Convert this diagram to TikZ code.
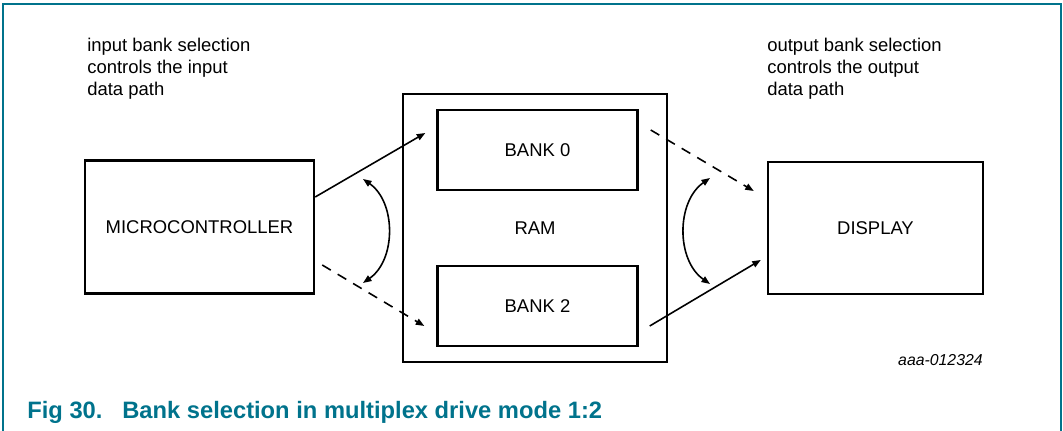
\documentclass[tikz,border=0pt]{standalone}
\usepackage{fontspec}
\setmainfont{Liberation Sans}
\usetikzlibrary{calc,positioning,arrows.meta}
\usepackage{xcolor}
\definecolor{figteal}{RGB}{0,115,140}

\begin{document}
\begin{tikzpicture}[x=0.02cm,y=-0.02cm,
    blockbox/.style={draw, line width=1.4pt, inner sep=0pt, font=\fontsize{10.5}{12.5}\selectfont},
    selarrow/.style={line width=0.9pt, -{Triangle[length=0.17cm,width=0.13cm]}},
    dasharrow/.style={selarrow, dash pattern=on 0.2cm off 0.16cm},
    swaparrow/.style={line width=0.9pt, {Triangle[length=0.17cm,width=0.13cm]}-{Triangle[length=0.17cm,width=0.13cm]}},
    note/.style={anchor=north west, inner sep=0pt, align=left, font=\fontsize{10.5}{12.5}\selectfont}]

        \useasboundingbox (0,0) rectangle (1063,431);

        % Figure frame, open at the bottom
        \draw[figteal, line width=0.85pt] (3,431) -- (3,4) -- (1061,4) -- (1061,431);

        % Blocks
        \node[blockbox, minimum width=4.58cm, minimum height=2.66cm] (mcu) at (199.5,227) {MICROCONTROLLER};
        \node[blockbox, minimum width=5.28cm, minimum height=5.36cm] (ram) at (535,228) {RAM};
        \node[blockbox, minimum width=4.0cm, minimum height=1.6cm] (bank0) at (537.5,150) {BANK 0};
        \node[blockbox, minimum width=4.0cm, minimum height=1.6cm] (bank2) at (537.5,306) {BANK 2};
        \node[blockbox, minimum width=4.3cm, minimum height=2.64cm] (display) at (875.5,228) {DISPLAY};

        % Data paths
        \draw[selarrow] ($(mcu.east)+(0,-30)$) -- ($(bank0.west)+(-11,-17)$);
        \draw[dasharrow] ($(mcu.east)+(7,38)$) -- ($(bank2.west)+(-12,20)$);
        \draw[dasharrow] ($(bank0.east)+(12,-20)$) -- ($(display.west)+(-13,-37)$);
        \draw[selarrow] ($(bank2.east)+(11,20)$) -- ($(display.west)+(-6,32)$);

        % Bank selection swaps
        \coordinate (insel top) at (363,179);
        \coordinate (insel bot) at (363,283);
        \coordinate (outsel top) at (710,178);
        \coordinate (outsel bot) at (710,284);
        \draw[swaparrow] (insel top) to[bend left=55] (insel bot);
        \draw[swaparrow] (outsel top) to[bend right=55] (outsel bot);

        % Notes
        \node[note] (innote) at (87,38) {input bank selection\\controls the input\\data path};
        \node[note] (outnote) at (767,38) {output bank selection\\controls the output\\data path};
        \node[anchor=base east, inner sep=0pt, font=\itshape\fontsize{9}{11}\selectfont] (figid) at (983,366) {aaa-012324};

        % Caption
        \node[anchor=base west, inner sep=0pt, text=figteal, font=\bfseries\fontsize{13.5}{16}\selectfont] (caption) at (27,419) {\makebox[1.9cm][l]{Fig 30.}Bank selection in multiplex drive mode 1:2};

\end{tikzpicture}
\end{document}
